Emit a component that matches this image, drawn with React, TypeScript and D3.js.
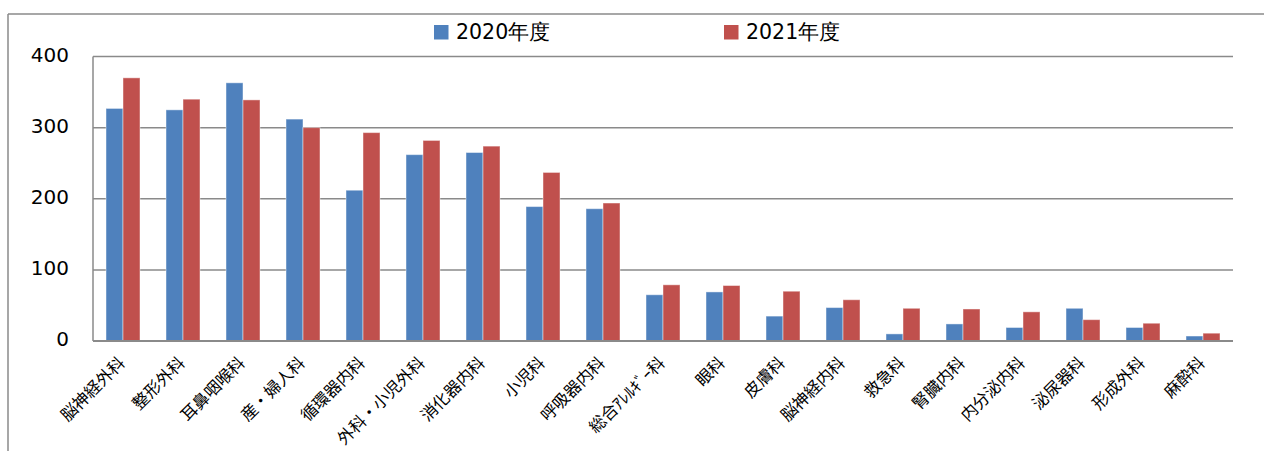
import React from "react";
import * as d3 from "d3";

const categories = [
  "脳神経外科", "整形外科", "耳鼻咽喉科", "産・婦人科", "循環器内科",
  "外科・小児外科", "消化器内科", "小児科", "呼吸器内科", "総合ｱﾚﾙｷﾞｰ科",
  "眼科", "皮膚科", "脳神経内科", "救急科", "腎臓内科",
  "内分泌内科", "泌尿器科", "形成外科", "麻酔科",
];
const series = ["2020年度", "2021年度"];
const values2020 = [327, 325, 363, 312, 212, 262, 265, 189, 186, 65, 69, 35, 47, 10, 24, 19, 46, 19, 7];
const values2021 = [370, 340, 339, 300, 293, 282, 274, 237, 194, 79, 78, 70, 58, 46, 45, 41, 30, 25, 11];
const yTicks = [0, 100, 200, 300, 400];
const colors = ["#4F81BD", "#C0504D"];

const W = 1264;
const H = 451;
const plot = { left: 93, right: 1233, top: 56.5, bottom: 341 };
const grid = "#8a8a8a";
const numFont = "'DejaVu Sans', Verdana, sans-serif";
const jpFont = "'Noto Sans CJK JP', sans-serif";

export default function App() {
  const x = d3.scaleBand<string>().domain(categories).range([plot.left, plot.right]).padding(0);
  const xs = d3
    .scaleBand<string>()
    .domain(series)
    .range([0, x.bandwidth()])
    .paddingInner(0)
    .paddingOuter(0.765);
  const y = d3.scaleLinear().domain([0, 400]).range([plot.bottom, plot.top]);
  const data = [values2020, values2021];

  return (
    <svg
      width={W}
      height={H}
      style={{ position: "absolute", left: 0, top: 0, background: "#fff" }}
    >
      {/* outer chart border */}
      <line x1={8} y1={14} x2={W + 2} y2={14} stroke={grid} strokeWidth={1.5} />
      <line x1={8} y1={14} x2={8} y2={H + 2} stroke={grid} strokeWidth={1.5} />

      {/* gridlines */}
      {yTicks.filter((t) => t > 0).map((t) => (
        <line
          key={t}
          x1={plot.left}
          x2={plot.right}
          y1={y(t)}
          y2={y(t)}
          stroke={grid}
          strokeWidth={1.5}
        />
      ))}
      {/* y tick labels */}
      {yTicks.map((t) => (
        <text
          key={t}
          x={69}
          y={y(t) - 2}
          dy="0.36em"
          textAnchor="end"
          fontFamily={numFont}
          fontSize={20}
          fill="#000"
        >
          {t}
        </text>
      ))}

      {/* bars */}
      {categories.map((c, i) => (
        <g key={c} transform={`translate(${x(c)},0)`}>
          {series.map((s, k) => {
            const v = data[k][i];
            return (
              <rect
                key={s}
                x={xs(s)}
                y={y(v)}
                width={xs.bandwidth()}
                height={y(0) - y(v)}
                fill={colors[k]}
                stroke="rgba(255,255,255,0.45)"
                strokeWidth={1}
              />
            );
          })}
        </g>
      ))}

      {/* axes */}
      <line x1={plot.left} x2={plot.left} y1={plot.top} y2={plot.bottom} stroke={grid} strokeWidth={1.5} />
      <line x1={plot.left} x2={plot.right} y1={plot.bottom} y2={plot.bottom} stroke={grid} strokeWidth={2} />

      {/* x labels */}
      {categories.map((c) => {
        const cx = (x(c) as number) + x.bandwidth() / 2 + 3;
        const cy = 364;
        return (
          <text
            key={c}
            x={cx}
            y={cy}
            textAnchor="end"
            transform={`rotate(-45 ${cx} ${cy})`}
            fontFamily={jpFont}
            fontSize={16.5}
            fill="#000"
          >
            {c}
          </text>
        );
      })}

      {/* legend */}
      {series.map((s, k) => {
        const lx = [434, 724][k];
        return (
          <g key={s}>
            <rect x={lx} y={25} width={14.5} height={14.5} fill={colors[k]} />
            <text
              x={lx + 22}
              y={39}
              fontFamily={numFont}
              fontSize={20.5}
              fill="#000"
            >
              {s}
            </text>
          </g>
        );
      })}
    </svg>
  );
}
